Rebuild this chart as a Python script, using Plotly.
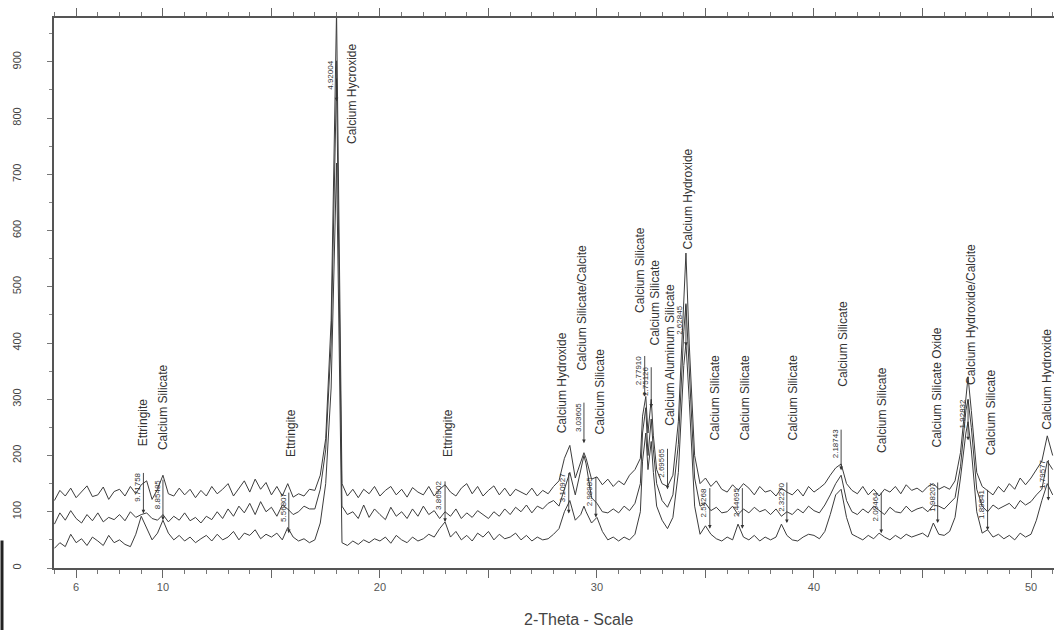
import numpy as np
import plotly.graph_objects as go

# ---------------- data ----------------
GRID_START, GRID_END, GRID_STEP = 5.0, 51.0, 0.25
EXTRA_X = [29.4, 32.1, 32.35, 32.6, 34.1, 47.1]

# rows per degree (x = d, d+.25, d+.5, d+.75 plus any EXTRA_X in that degree)
TOP = [
    [120, 138, 128, 142],            # 5
    [125, 135, 146, 127],            # 6
    [130, 144, 122, 136],            # 7
    [140, 128, 145, 132],            # 8
    [148, 155, 122, 140],            # 9
    [165, 132, 128, 142],            # 10
    [130, 140, 125, 138],            # 11
    [128, 145, 132, 140],            # 12
    [150, 128, 142, 155],            # 13
    [135, 158, 140, 152],            # 14
    [130, 145, 128, 150],            # 15
    [126, 132, 128, 140],            # 16
    [138, 165, 230, 440],            # 17
    [990, 150, 128, 140],            # 18
    [125, 140, 132, 145],            # 19
    [128, 138, 145, 130],            # 20
    [140, 126, 143, 135],            # 21
    [130, 145, 128, 140],            # 22
    [148, 135, 128, 142],            # 23
    [150, 132, 145, 128],            # 24
    [138, 146, 130, 142],            # 25
    [128, 140, 135, 130],            # 26
    [142, 128, 138, 132],            # 27
    [145, 155, 195, 218],            # 28
    [160, 190, 205, 195, 158],       # 29 (+29.4)
    [162, 148, 158, 145],            # 30
    [155, 148, 165, 175],            # 31
    [195, 270, 305, 240, 300, 235, 175],  # 32 (+32.1,32.35,32.6)
    [150, 145, 165, 260],            # 33
    [480, 560, 400, 200, 150],       # 34 (+34.1)
    [160, 145, 155, 140],            # 35
    [135, 148, 138, 150],            # 36
    [142, 130, 145, 135],            # 37
    [138, 128, 142, 135],            # 38
    [130, 140, 128, 145],            # 39
    [135, 142, 150, 165],            # 40
    [178, 185, 150, 138],            # 41
    [132, 145, 130, 140],            # 42
    [128, 140, 135, 145],            # 43
    [132, 148, 138, 142],            # 44
    [135, 145, 150, 140],            # 45
    [145, 140, 155, 205],            # 46
    [310, 340, 280, 170, 145],       # 47 (+47.1)
    [138, 130, 145, 135],            # 48
    [150, 140, 160, 148],            # 49
    [160, 175, 190, 235],            # 50
    [200],                           # 51
]

MIDDLE = [
    [78, 98, 85, 102],
    [88, 80, 95, 84],
    [98, 82, 90, 86],
    [95, 84, 100, 90],
    [95, 98, 88, 85],
    [95, 82, 92, 85],
    [98, 84, 90, 80],
    [92, 86, 100, 88],
    [105, 92, 110, 98],
    [115, 95, 118, 100],
    [108, 92, 112, 105],
    [95, 100, 110, 105],
    [105, 140, 210, 400],
    [870, 110, 95, 100],
    [88, 112, 90, 105],
    [95, 86, 108, 92],
    [100, 88, 105, 92],
    [110, 95, 102, 88],
    [100, 92, 105, 88],
    [98, 90, 102, 95],
    [88, 100, 92, 105],
    [95, 108, 100, 112],
    [98, 110, 105, 115],
    [120, 110, 140, 170],
    [130, 175, 200, 185, 125],
    [115, 100, 98, 105],
    [98, 110, 102, 115],
    [150, 240, 285, 200, 265, 210, 150],
    [120, 108, 130, 220],
    [420, 470, 350, 160, 110],
    [115, 102, 108, 98],
    [100, 110, 95, 105],
    [98, 108, 100, 104],
    [95, 105, 92, 100],
    [95, 105, 98, 110],
    [102, 98, 112, 130],
    [150, 165, 120, 100],
    [95, 105, 98, 110],
    [102, 95, 108, 100],
    [98, 110, 100, 105],
    [108, 100, 112, 110],
    [105, 115, 125, 180],
    [280, 300, 250, 140, 110],
    [100, 112, 105, 110],
    [115, 105, 120, 112],
    [118, 130, 140, 190],
    [175],
]

BOTTOM = [
    [35, 45, 38, 60],
    [45, 52, 40, 55],
    [48, 40, 58, 45],
    [50, 42, 38, 60],
    [92, 70, 50, 62],
    [85, 62, 50, 58],
    [48, 55, 45, 52],
    [58, 48, 60, 50],
    [55, 65, 50, 62],
    [58, 68, 52, 60],
    [55, 62, 50, 72],
    [55, 48, 52, 45],
    [50, 80, 150, 320],
    [720, 45, 40, 48],
    [42, 50, 45, 52],
    [48, 55, 44, 58],
    [50, 45, 55, 48],
    [52, 60, 55, 70],
    [82, 55, 65, 50],
    [58, 48, 62, 55],
    [65, 50, 60, 52],
    [55, 62, 50, 58],
    [48, 55, 50, 52],
    [60, 70, 100, 120],
    [85, 95, 110, 100, 80],
    [90, 65, 50, 55],
    [48, 55, 50, 60],
    [100, 190, 240, 175, 225, 170, 110],
    [85, 70, 90, 170],
    [360, 400, 300, 110, 60],
    [75, 60, 52, 48],
    [55, 50, 78, 55],
    [50, 58, 48, 55],
    [50, 55, 78, 58],
    [50, 48, 55, 60],
    [58, 52, 65, 95],
    [130, 140, 90, 60],
    [55, 50, 58, 52],
    [62, 55, 50, 58],
    [52, 60, 55, 58],
    [62, 55, 80, 60],
    [58, 65, 90, 160],
    [240, 260, 210, 100, 62],
    [68, 55, 60, 52],
    [58, 50, 62, 55],
    [60, 85, 120, 150],
    [130],
]

# phase labels
PHASE_TEXT = ["Ettringite", "Calcium Silicate", "Ettringite", "Calcium Hycroxide", "Ettringite",
              "Calcium Hydroxide", "Calcium Silicate/Calcite", "Calcium Silicate", "Calcium Silicate",
              "Calcium Silicate", "Calcium Aluminum Silicate", "Calcium Hydroxide", "Calcium Silicate",
              "Calcium Silicate", "Calcium Silicate", "Calcium Silicate", "Calcium Silicate",
              "Calcium Silicate Oxide", "Calcium Hydroxide/Calcite", "Calcium Silicate", "Calcium Hydroxide"]
PHASE_X = [9.08, 10.0, 15.9, 18.71, 23.13, 28.43, 29.31, 30.14, 31.98, 32.67, 33.36, 34.19,
           35.44, 36.82, 39.03, 41.34, 43.13, 45.67, 47.24, 48.16, 50.74]
PHASE_Y = [259, 286, 240, 843, 240, 330, 463, 314, 530, 472, 379, 657,
           303, 303, 303, 399, 281, 321, 450, 277, 335]

# d-spacing markers
D_TEXT = ["9.71758", "8.85485", "5.56807", "4.92004", "3.86902", "3.10927", "3.03605", "2.98985",
          "2.77910", "2.75126", "2.69565", "2.62845", "2.54268", "2.44695", "2.32270", "2.18743",
          "2.09464", "1.98207", "1.92832", "1.89841", "1.79577"]
D_X = [9.1, 10.0, 15.8, 18.0, 23.0, 28.7, 29.4, 29.95, 32.2, 32.5, 33.25, 34.1, 35.2, 36.7,
       38.75, 41.25, 43.1, 45.7, 47.1, 48.0, 50.8]
D_Y = [97, 85, 62, 830, 82, 97, 222, 90, 305, 285, 140, 395, 70, 70, 80, 174, 62, 80, 227, 67, 120]

X_TICKVALS = [6, 10, 15, 20, 25, 30, 35, 40, 45, 50]
X_TICKTEXT = ["6", "10", "", "20", "", "30", "", "40", "", "50"]
Y_TICKVALS = [0, 100, 200, 300, 400, 500, 600, 700, 800, 900]

# ---------------- build ----------------
x_grid = sorted(list(np.round(np.arange(GRID_START, GRID_END + 0.001, GRID_STEP), 3)) + EXTRA_X)


def flat(rows):
    return [v for r in rows for v in r]


LINE = "#3c3c3c"
fig = go.Figure()
for rows in (TOP, MIDDLE, BOTTOM):
    ys = flat(rows)
    fig.add_trace(go.Scatter(x=x_grid, y=ys, mode="lines",
                             line=dict(color=LINE, width=1), showlegend=False, hoverinfo="skip"))

FONT = "Liberation Sans, Arial, sans-serif"
ann = []
for t, x, y in zip(PHASE_TEXT, PHASE_X, PHASE_Y):
    ann.append(dict(x=x, y=y, text=t, textangle=-90, showarrow=False,
                    font=dict(family=FONT, size=12, color="#333"),
                    xanchor="center", yanchor="middle"))
for t, x, y in zip(D_TEXT, D_X, D_Y):
    ann.append(dict(x=x, y=y, text="", showarrow=True, ax=0, ay=-42,
                    arrowhead=2, arrowsize=0.8, arrowwidth=0.9, arrowcolor="#333"))
    ann.append(dict(x=x, y=y, text=t, textangle=-90, showarrow=False,
                    font=dict(family=FONT, size=8, color="#333"),
                    xshift=-6, yshift=26, xanchor="center", yanchor="middle"))
ann.append(dict(x=0.524, y=-0.094, xref="paper", yref="paper", text="2-Theta - Scale",
                showarrow=False, font=dict(family=FONT, size=16, color="#444"),
                xanchor="center", yanchor="middle"))

fig.update_layout(
    width=1054, height=630,
    margin=dict(l=54, r=0, t=18, b=62),
    paper_bgcolor="white", plot_bgcolor="white",
    annotations=ann,
    shapes=[dict(type="line", xref="paper", yref="paper", x0=-0.052, x1=-0.052,
                 y0=-0.114, y1=0.05, line=dict(color="#222", width=3))],
    xaxis=dict(range=[4.98, 51.06], showgrid=False, zeroline=False,
               showline=True, linecolor="#555", linewidth=1.5, mirror="allticks",
               ticks="outside", ticklen=8, tickcolor="#666", tickwidth=1,
               tickvals=X_TICKVALS, ticktext=X_TICKTEXT,
               tickfont=dict(family=FONT, size=11, color="#555"),
               minor=dict(dtick=1, ticks="outside", ticklen=4, tickcolor="#777", showgrid=False)),
    yaxis=dict(range=[0, 978], showgrid=False, zeroline=False,
               showline=True, linecolor="#555", linewidth=1.5,
               ticks="outside", ticklen=5, tickcolor="#777",
               tickvals=Y_TICKVALS, tickangle=-90, ticklabelstandoff=22,
               tickfont=dict(family=FONT, size=11, color="#444"),
               minor=dict(dtick=50, ticks="outside", ticklen=3, tickcolor="#888", showgrid=False)),
)

fig.write_html("out.html")
